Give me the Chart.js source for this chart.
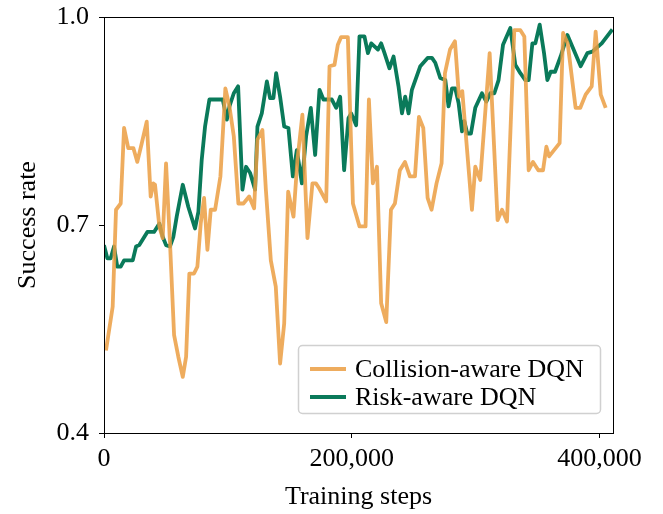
<!DOCTYPE html>
<html>
<head>
<meta charset="utf-8">
<script src="https://cdn.jsdelivr.net/npm/chart.js@4.4.1/dist/chart.umd.min.js"></script>
<style>
  html, body { margin: 0; padding: 0; background: #fff; }
  canvas { display: block; }
</style>
</head>
<body>
<canvas id="myChart" width="663" height="514"></canvas>
<script>
// Collision-aware DQN (orange)
const collisionSteps = [1600, 7000, 9700, 13500, 16200, 19600, 23700, 26900, 30500, 34500,
  37700, 39800, 41200, 44700, 47400, 50100, 53300, 56600, 60000, 63600,
  66300, 68900, 72700, 75400, 78100, 80800, 83500, 86200, 89700, 94000,
  98000, 101300, 104800, 108500, 112600, 117200, 121200, 123900, 127900, 130700,
  134700, 138700, 142200, 145500, 148700, 153000, 156200, 160200, 164300, 168300,
  171100, 173700, 179400, 182100, 186100, 188800, 191500, 196900, 201000, 206300,
  211200, 213900, 217100, 220400, 223800, 227900, 231700, 234900, 238900, 243000,
  247000, 251100, 254300, 257800, 261300, 264500, 268500, 272600, 275300, 279400,
  283400, 286600, 289300, 297100, 299800, 303800, 311400, 317800, 321400, 325400,
  331300, 336200, 339400, 342900, 346400, 350700, 354500, 357200, 359400, 367900,
  370700, 374400, 380800, 384600, 388900, 393800, 397000, 401100, 405100];
const collisionRate = [0.519, 0.582, 0.722, 0.731, 0.840, 0.811, 0.811, 0.791, 0.818, 0.849,
  0.741, 0.760, 0.758, 0.698, 0.681, 0.789, 0.674, 0.541, 0.510, 0.481,
  0.510, 0.630, 0.630, 0.640, 0.702, 0.739, 0.664, 0.722, 0.722, 0.770,
  0.897, 0.871, 0.828, 0.731, 0.731, 0.741, 0.724, 0.823, 0.837, 0.751,
  0.649, 0.611, 0.500, 0.558, 0.748, 0.712, 0.794, 0.859, 0.681, 0.760,
  0.760, 0.753, 0.734, 0.929, 0.931, 0.960, 0.971, 0.971, 0.731, 0.698,
  0.698, 0.881, 0.760, 0.784, 0.587, 0.560, 0.722, 0.731, 0.779, 0.791,
  0.770, 0.770, 0.856, 0.840, 0.739, 0.722, 0.760, 0.789, 0.919, 0.953,
  0.965, 0.885, 0.893, 0.722, 0.784, 0.765, 0.948, 0.707, 0.722, 0.705,
  0.981, 0.981, 0.972, 0.779, 0.791, 0.779, 0.779, 0.813, 0.799, 0.818,
  0.977, 0.962, 0.869, 0.869, 0.888, 0.900, 0.979, 0.888, 0.869];

// Risk-aware DQN (green)
const riskSteps = [0, 2700, 5400, 8100, 10700, 13500, 16200, 23200, 25900, 28500,
  35000, 40400, 44700, 47400, 50100, 53300, 56000, 58700, 63600, 68100,
  73500, 76200, 78900, 81600, 85100, 95900, 99200, 101300, 104800, 108300,
  111800, 114700, 118000, 122000, 123900, 127400, 131500, 134100, 136800, 139000,
  142200, 145500, 148900, 152500, 155700, 159800, 163200, 167000, 170500, 174000,
  177200, 184000, 187500, 190700, 193900, 197400, 199600, 203600, 206300, 210300,
  213100, 215800, 221200, 223800, 226500, 230500, 233800, 237800, 240600, 243200,
  245900, 248600, 255400, 261300, 264800, 267500, 271500, 275600, 278200, 281000,
  283600, 286300, 289100, 290900, 293300, 296300, 299800, 305200, 308700, 311900,
  315200, 318600, 322200, 328100, 332100, 336200, 340200, 342900, 345900, 348300,
  351800, 355300, 358000, 360700, 364200, 368700, 374200, 384900, 390300, 394300,
  401900, 410500];
const riskRate = [0.671, 0.652, 0.652, 0.669, 0.640, 0.640, 0.649, 0.649, 0.669, 0.671,
  0.690, 0.690, 0.702, 0.683, 0.671, 0.669, 0.683, 0.712, 0.758, 0.726,
  0.695, 0.719, 0.794, 0.842, 0.881, 0.881, 0.852, 0.871, 0.890, 0.900,
  0.751, 0.784, 0.775, 0.751, 0.842, 0.861, 0.907, 0.883, 0.883, 0.919,
  0.885, 0.842, 0.840, 0.770, 0.808, 0.760, 0.828, 0.869, 0.801, 0.895,
  0.881, 0.881, 0.869, 0.885, 0.779, 0.854, 0.861, 0.844, 0.972, 0.972,
  0.948, 0.962, 0.953, 0.962, 0.948, 0.926, 0.943, 0.900, 0.861, 0.885,
  0.861, 0.895, 0.929, 0.941, 0.941, 0.934, 0.912, 0.909, 0.871, 0.897,
  0.897, 0.876, 0.835, 0.850, 0.832, 0.832, 0.869, 0.890, 0.878, 0.890,
  0.890, 0.909, 0.960, 0.984, 0.931, 0.919, 0.909, 0.909, 0.962, 0.962,
  0.989, 0.948, 0.909, 0.921, 0.921, 0.943, 0.974, 0.929, 0.948, 0.950,
  0.962, 0.982];

const xTicks = [0, 200000, 400000];
const yTicks = [0.4, 0.7, 1.0];
const seriesLabels = ["Collision-aware DQN", "Risk-aware DQN"];

const FONT = "'Liberation Serif', 'Times New Roman', serif";
const ORANGE = "rgba(235, 158, 66, 0.85)";
const GREEN = "rgb(10, 122, 90)";

function toPoints(steps, rates) {
  return steps.map((s, i) => ({ x: s, y: rates[i] }));
}

//Frame around plot + legend box
const framePlugin = {
  id: "frame",
  afterDraw(chart) {
    const ctx = chart.ctx;
    const a = chart.chartArea;
    ctx.save();
    ctx.strokeStyle = "#000";
    ctx.lineWidth = 1;
    ctx.strokeRect(Math.round(a.left) + 0.5, Math.round(a.top) + 0.5,
      Math.round(a.right - a.left), Math.round(a.bottom - a.top));

    //Legend
    const bx = a.right - 315, by = a.bottom - 88, bw = 302, bh = 68;
    ctx.beginPath();
    ctx.roundRect(bx + 0.5, by + 0.5, bw, bh, 4);
    ctx.fillStyle = "rgba(255,255,255,0.8)";
    ctx.fill();
    ctx.strokeStyle = "#d0d0d0";
    ctx.lineWidth = 1.5;
    ctx.stroke();

    const colors = [ORANGE, GREEN];
    ctx.font = "26px " + FONT;
    ctx.textBaseline = "middle";
    ctx.textAlign = "left";
    seriesLabels.forEach((label, i) => {
      const yy = by + 24 + i * 28;
      ctx.beginPath();
      ctx.moveTo(bx + 12, yy);
      ctx.lineTo(bx + 48, yy);
      ctx.strokeStyle = colors[i];
      ctx.lineWidth = 3.8;
      ctx.stroke();
      ctx.fillStyle = "#000";
      ctx.fillText(label, bx + 57, yy + 1);
    });
    ctx.restore();
  },
};

const ctx = document.getElementById("myChart");
const myChart = new Chart(ctx, {
  type: "line",
  data: {
    datasets: [
      {
        label: seriesLabels[0],
        data: toPoints(collisionSteps, collisionRate),
        borderColor: ORANGE,
        backgroundColor: ORANGE,
        borderWidth: 3.8,
        pointRadius: 0,
        tension: 0,
        fill: false,
        borderJoinStyle: "round",
      },
      {
        label: seriesLabels[1],
        data: toPoints(riskSteps, riskRate),
        borderColor: GREEN,
        backgroundColor: GREEN,
        borderWidth: 3.8,
        pointRadius: 0,
        tension: 0,
        fill: false,
        borderJoinStyle: "round",
      },
    ],
  },
  options: {
    responsive: false,
    animation: false,
    devicePixelRatio: 1,
    layout: { padding: { top: 17, right: 50, left: 0, bottom: 0 } },
    plugins: {
      legend: { display: false },
      tooltip: { enabled: false },
    },
    scales: {
      x: {
        type: "linear",
        min: 0,
        max: 411000,
        afterBuildTicks: (scale) => {
          scale.ticks = xTicks.map((v) => ({ value: v }));
        },
        afterFit: (scale) => {
          scale.height = 81;
          scale.paddingLeft = 0;
          scale.paddingRight = 0;
        },
        border: { display: false },
        grid: {
          drawOnChartArea: false,
          drawTicks: true,
          tickLength: 5,
          color: "#000",
        },
        ticks: {
          color: "#000",
          padding: 6,
          maxRotation: 0,
          font: { family: FONT, size: 26 },
          callback: (v) => v.toLocaleString("en-US"),
        },
        title: {
          display: true,
          text: "Training steps",
          color: "#000",
          font: { family: FONT, size: 26 },
          padding: { top: 0, bottom: 1 },
        },
      },
      y: {
        min: 0.4,
        max: 1.0,
        afterBuildTicks: (scale) => {
          scale.ticks = yTicks.map((v) => ({ value: v }));
        },
        afterFit: (scale) => {
          scale.width = 104;
          scale.paddingTop = 0;
          scale.paddingBottom = 0;
        },
        border: { display: false },
        grid: {
          drawOnChartArea: false,
          drawTicks: true,
          tickLength: 5,
          color: "#000",
        },
        ticks: {
          color: "#000",
          padding: 10,
          font: { family: FONT, size: 26 },
          callback: (v) => v.toFixed(1),
        },
        title: {
          display: true,
          text: "Success rate",
          color: "#000",
          font: { family: FONT, size: 26 },
          padding: { top: 13, bottom: 0 },
        },
      },
    },
  },
  plugins: [framePlugin],
});
</script>
</body>
</html>
